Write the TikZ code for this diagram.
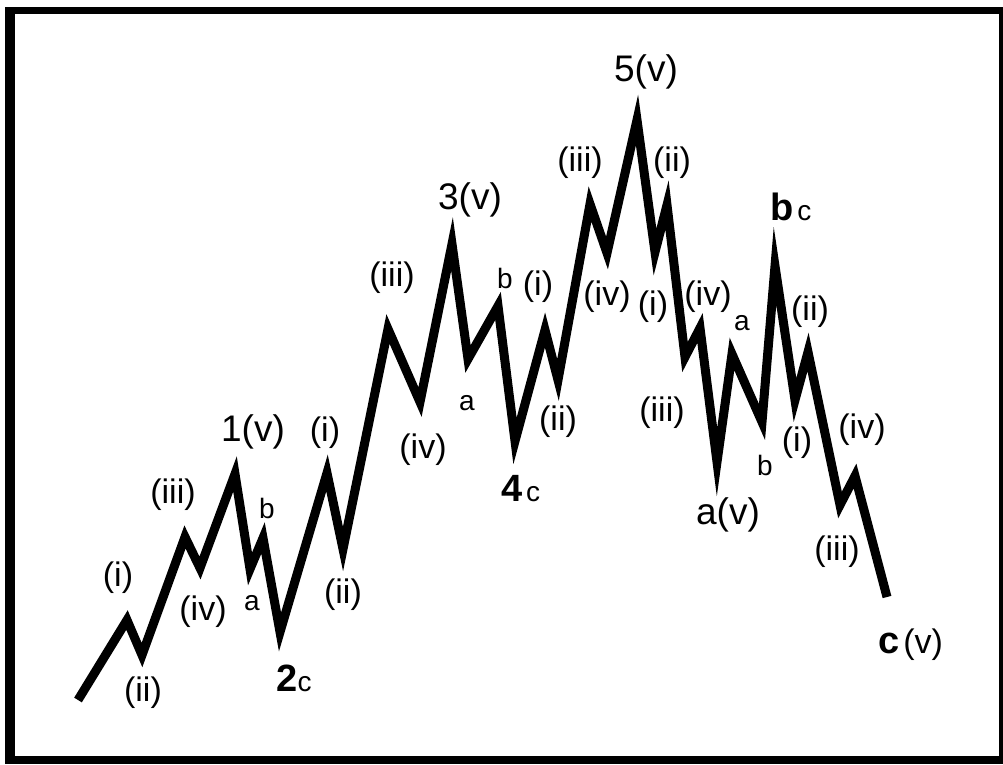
\documentclass[tikz,border=0pt]{standalone}
\usepackage{fontspec}
\setmainfont{Liberation Sans}
\begin{document}
\begin{tikzpicture}[x=1pt,y=-1pt,
  lbl/.style={inner sep=0pt, font=\fontsize{34}{38}\selectfont},
  sml/.style={inner sep=0pt, font=\fontsize{28}{30}\selectfont},
  mainlbl/.style={inner sep=0pt, font=\fontsize{37}{40}\selectfont},
  wave/.style={line width=9pt, line join=miter, miter limit=20}]
\useasboundingbox (0,0) rectangle (1003,764);
\fill[black] (5,7) rectangle (1003,764);
\fill[white] (15,14) rectangle (999,756);
% wave vertices
\coordinate (p0) at (78,700);
\coordinate (p1) at (127,620);
\coordinate (p2) at (142,655);
\coordinate (p3) at (185,537);
\coordinate (p4) at (200,568);
\coordinate (p5) at (235,474);
\coordinate (p6) at (250,569);
\coordinate (p7) at (263,538);
\coordinate (p8) at (280,632);
\coordinate (p9) at (327,473);
\coordinate (p10) at (343,549);
\coordinate (p11) at (388,329);
\coordinate (p12) at (420,402);
\coordinate (p13) at (452,244);
\coordinate (p14) at (468,359);
\coordinate (p15) at (498,306);
\coordinate (p16) at (515,441);
\coordinate (p17) at (545,330);
\coordinate (p18) at (558,380);
\coordinate (p19) at (590,204);
\coordinate (p20) at (607,253);
\coordinate (p21) at (637,120);
\coordinate (p22) at (655,252);
\coordinate (p23) at (667,205);
\coordinate (p24) at (685,357);
\coordinate (p25) at (700,328);
\coordinate (p26) at (717,462);
\coordinate (p27) at (732,354);
\coordinate (p28) at (762,422);
\coordinate (p29) at (775,266);
\coordinate (p30) at (795,400);
\coordinate (p31) at (808,352);
\coordinate (p32) at (840,505);
\coordinate (p33) at (855,476);
\coordinate (p34) at (887,597);
\draw[wave] (p0) -- (p1) -- (p2) -- (p3) -- (p4) -- (p5) -- (p6) -- (p7) -- (p8)
  -- (p9) -- (p10) -- (p11) -- (p12) -- (p13) -- (p14) -- (p15) -- (p16) -- (p17)
  -- (p18) -- (p19) -- (p20) -- (p21) -- (p22) -- (p23) -- (p24) -- (p25) -- (p26)
  -- (p27) -- (p28) -- (p29) -- (p30) -- (p31) -- (p32) -- (p33) -- (p34);
% labels, wave 1
\node[lbl] (l1) at (118,578) {(i)};
\node[lbl] (l2) at (143,693) {(ii)};
\node[lbl] (l3) at (173,495) {(iii)};
\node[lbl] (l4) at (203,612) {(iv)};
\node[mainlbl] (l5) at (253,432) {1(v)};
\node[sml] (l6) at (267,508) {b};
\node[sml] (l7) at (252,603) {a};
\node[inner sep=0pt] (l8) at (294,678) {{\fontsize{38}{40}\selectfont\bfseries 2}{\fontsize{28}{30}\selectfont c}};
% wave 3
\node[lbl] (l9) at (325,433) {(i)};
\node[lbl] (l10) at (343,595) {(ii)};
\node[lbl] (l11) at (392,278) {(iii)};
\node[lbl] (l12) at (423,450) {(iv)};
\node[mainlbl] (l13) at (470,200) {3(v)};
\node[sml] (l14) at (467,403) {a};
\node[sml] (l15) at (505,278) {b};
\node[inner sep=0pt] (l16) at (521,489) {{\fontsize{38}{40}\selectfont\bfseries 4}\,\,{\fontsize{28}{30}\selectfont c}};
% wave 5
\node[lbl] (l17) at (538,287) {(i)};
\node[lbl] (l18) at (558,422) {(ii)};
\node[lbl] (l19) at (580,163) {(iii)};
\node[lbl] (l20) at (607,297) {(iv)};
\node[mainlbl] (l21) at (646,72) {5(v)};
% wave a
\node[lbl] (l22) at (653,307) {(i)};
\node[lbl] (l23) at (672,163) {(ii)};
\node[lbl] (l24) at (662,413) {(iii)};
\node[lbl] (l25) at (708,297) {(iv)};
\node[mainlbl] (l26) at (728,515) {a(v)};
% wave b
\node[sml] (l27) at (742,323) {a};
\node[sml] (l28) at (765,465) {b};
\node[inner sep=0pt] (l29) at (791,207) {{\fontsize{38}{40}\selectfont\bfseries b}\,\,{\fontsize{28}{30}\selectfont c}};
% wave c
\node[lbl] (l30) at (797,443) {(i)};
\node[lbl] (l31) at (810,312) {(ii)};
\node[lbl] (l32) at (837,552) {(iii)};
\node[lbl] (l33) at (862,430) {(iv)};
\node[inner sep=0pt] (l34) at (911,645) {{\fontsize{38}{40}\selectfont\bfseries c}\,\,{\fontsize{34}{38}\selectfont (v)}};
\end{tikzpicture}
\end{document}
